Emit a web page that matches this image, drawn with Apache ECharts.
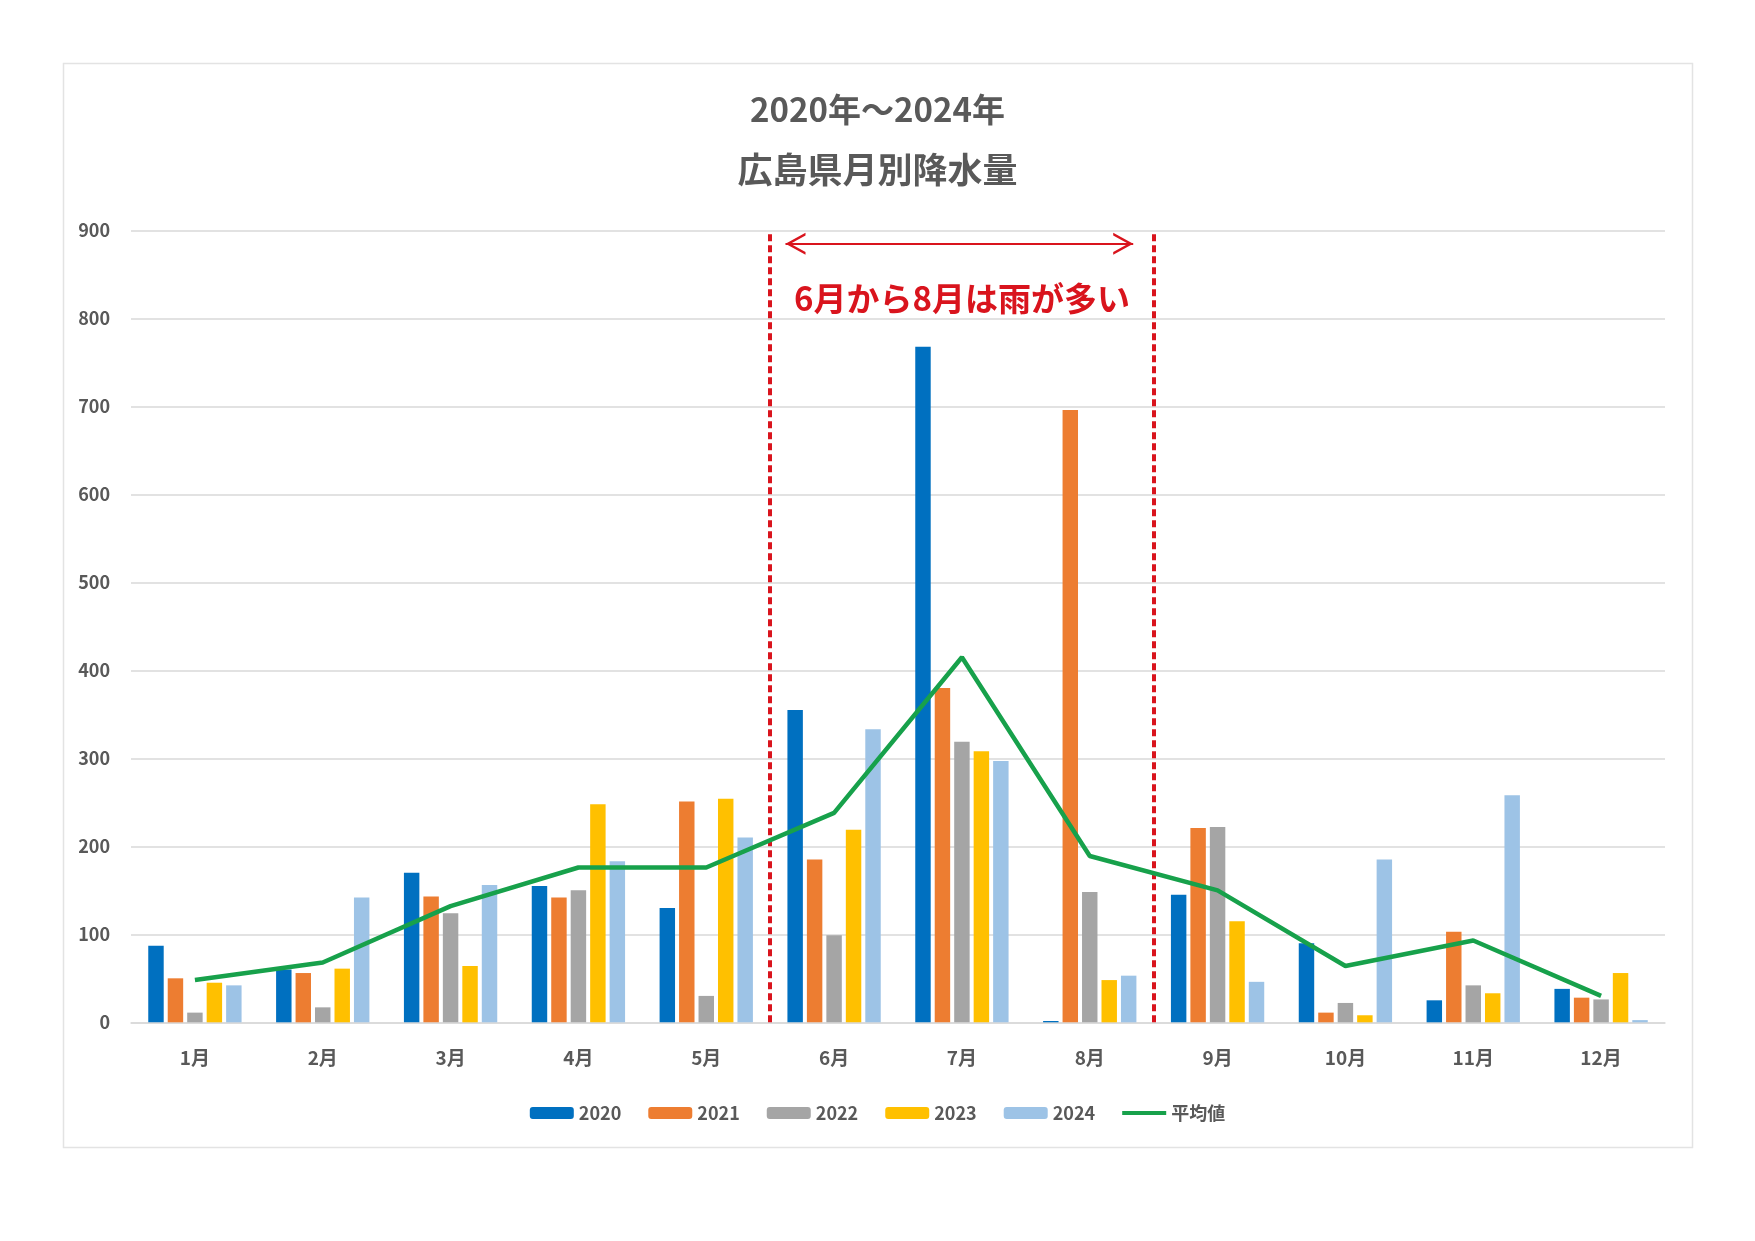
<!DOCTYPE html>
<html lang="ja">
<head>
<meta charset="UTF-8">
<title>広島県月別降水量</title>
<script src="https://cdn.jsdelivr.net/npm/echarts@6/dist/echarts.min.js"></script>
<style>
    html, body { margin: 0; padding: 0; background: #fff; }
    #main { width: 1755px; height: 1241px; }
</style>
</head>
<body>
<div id="main"></div>
<script>
// 月
const months = ['1月', '2月', '3月', '4月', '5月', '6月', '7月', '8月', '9月', '10月', '11月', '12月']
// 年別降水量 (mm)
const rain2020 = [87, 60, 170, 155, 130, 355, 768, 1.5, 145, 90, 25, 38]
const rain2021 = [50, 56, 143, 142, 251, 185, 380, 696, 221, 11, 103, 28]
const rain2022 = [11, 17, 124, 150, 30, 99, 319, 148, 222, 22, 42, 26]
const rain2023 = [45, 61, 64, 248, 254, 219, 308, 48, 115, 8, 33, 56]
const rain2024 = [42, 142, 156, 183, 210, 333, 297, 53, 46, 185, 258, 2.5]
// 平均値
const average = [48, 68, 132, 176, 176, 238, 415, 189, 150, 64, 93, 30]
// y軸目盛
const yTicks = [0, 900, 100]

// 6月～8月の注釈（月の境目）
const rangeFrom = 5
const rangeTo = 8
const noteText = '6月から8月は雨が多い'

const years = ['2020', '2021', '2022', '2023', '2024']
const yearData = [rain2020, rain2021, rain2022, rain2023, rain2024]
const colors = ['#0070c0', '#ed7d31', '#a5a5a5', '#ffc000', '#9dc3e6']
const green = '#17a14b'
const red = '#d9141d'
const font = '"Noto Sans CJK JP", "Noto Sans", sans-serif'

// 矢印の形（中心が先端）
const chevron = 'path://M11,20 L22,40 L19.2,40 L11,25 L2.8,40 L0,40 Z M11,0 L11.01,0 Z'

const myChart = echarts.init(document.querySelector('#main'))

const barSeries = years.map((y, i) => {
    return {
        name: y,
        type: 'bar',
        data: yearData[i],
        barGap: '26%',
        barCategoryGap: '27%',
        itemStyle: { color: colors[i] }
    }
})

const titleStyle = { fontWeight: 'bold', color: '#595959', fontFamily: font }

const option = {
    animation: false,
    textStyle: { fontFamily: font },
    title: [
        {
            text: '2020年～2024年',
            left: 'center',
            top: 93,
            padding: 0,
            textStyle: { ...titleStyle, fontSize: 33 }
        },
        {
            text: '広島県月別降水量',
            left: 'center',
            top: 152,
            padding: 0,
            textStyle: { ...titleStyle, fontSize: 35 }
        }
    ],
    legend: {
        data: [...years, { name: '平均値', icon: 'path://M0,0 L48,0 L48,4.5 L0,4.5 Z' }],
        top: 1099,
        left: 'center',
        itemWidth: 44,
        itemHeight: 12,
        itemGap: 27,
        textStyle: { fontSize: 18, color: '#595959', fontWeight: 'bold', fontFamily: font }
    },
    grid: {
        left: 131,
        right: 90,
        top: 230.6,
        bottom: 218.7
    },
    xAxis: [
        {
            type: 'category',
            data: months,
            axisTick: { show: false },
            axisLine: { lineStyle: { color: '#d9d9d9', width: 1.5 } },
            axisLabel: { fontSize: 19, fontWeight: 'bold', color: '#595959', margin: 26 }
        },
        {
            // 注釈用の見えない軸
            type: 'value',
            min: 0,
            max: months.length,
            show: false
        }
    ],
    yAxis: {
        type: 'value',
        min: yTicks[0],
        max: yTicks[1],
        interval: yTicks[2],
        axisLine: { show: false },
        axisTick: { show: false },
        axisLabel: { fontSize: 18, fontWeight: 'bold', color: '#595959', margin: 21 },
        splitLine: { lineStyle: { color: '#d9d9d9', width: 1.5 } }
    },
    graphic: [
        {
            type: 'rect',
            left: 61,
            top: 61,
            shape: { width: 1629, height: 1084 },
            style: { fill: 'none', stroke: '#e3e3e3', lineWidth: 1.5 },
            silent: true
        }
    ],
    series: [
        ...barSeries,
        {
            name: '平均値',
            type: 'line',
            data: average,
            symbol: 'none',
            z: 5,
            lineStyle: { color: green, width: 4.5 },
            itemStyle: { color: green }
        },
        {
            // 赤い点線と矢印
            name: 'note',
            type: 'line',
            xAxisIndex: 1,
            data: [],
            markLine: {
                silent: true,
                symbol: 'none',
                label: { show: false },
                data: [
                    [
                        { coord: [rangeFrom, 0], lineStyle: { color: red, width: 4, type: [7, 4] } },
                        { coord: [rangeFrom, 900] }
                    ],
                    [
                        { coord: [rangeTo, 0], lineStyle: { color: red, width: 4, type: [7, 4] } },
                        { coord: [rangeTo, 900] }
                    ],
                    [
                        { coord: [rangeFrom + 0.12, 885], symbol: chevron, symbolSize: [22, 40], lineStyle: { color: red, width: 2, type: 'solid' } },
                        { coord: [rangeTo - 0.16, 885], symbol: chevron, symbolSize: [22, 40] }
                    ]
                ]
            },
            markPoint: {
                silent: true,
                symbol: 'rect',
                symbolSize: 1,
                itemStyle: { color: 'rgba(0,0,0,0)' },
                label: {
                    show: true,
                    position: 'inside',
                    formatter: noteText,
                    fontSize: 33,
                    fontWeight: 'bold',
                    color: red,
                    fontFamily: font
                },
                data: [{ coord: [(rangeFrom + rangeTo) / 2, 823] }]
            }
        }
    ]
}
myChart.setOption(option)
</script>
</body>
</html>
